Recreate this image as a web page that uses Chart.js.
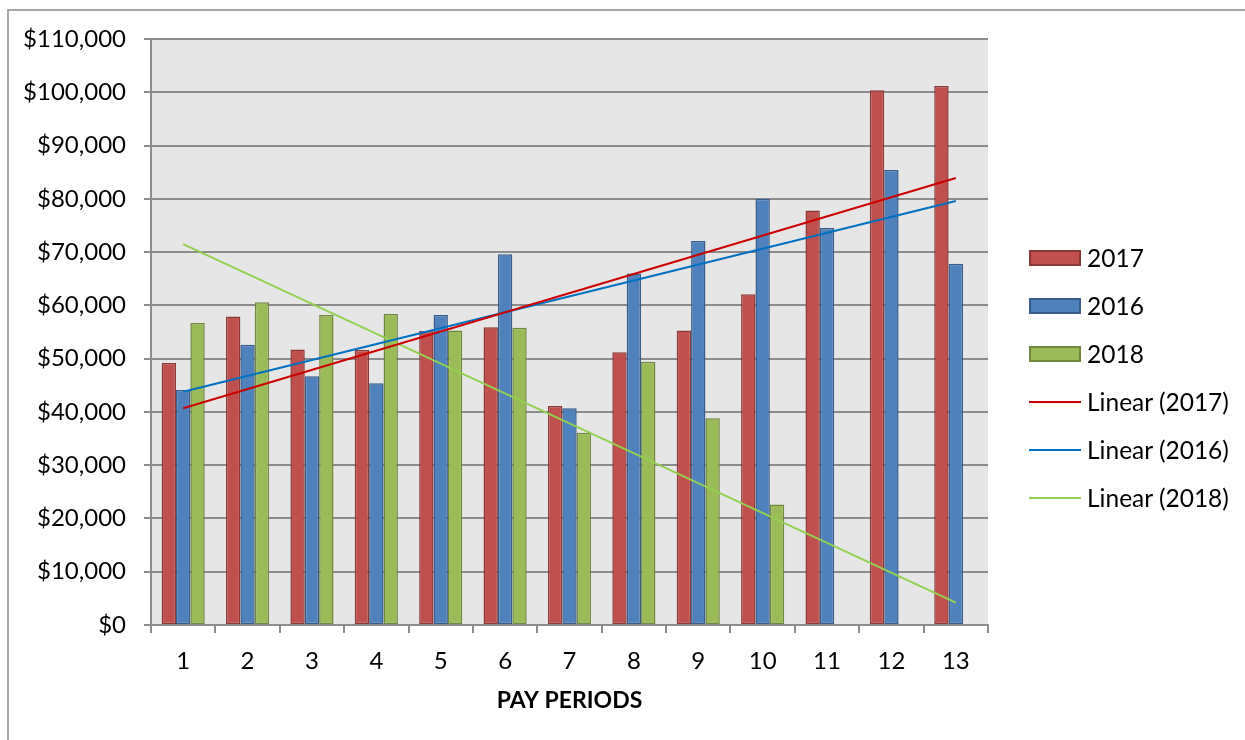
<!DOCTYPE html>
<html>
<head>
<meta charset="utf-8">
<script src="https://cdn.jsdelivr.net/npm/chart.js@4/dist/chart.umd.min.js"></script>
<style>
  html, body { margin: 0; padding: 0; background: #ffffff; }
  body { width: 1245px; height: 740px; position: relative; overflow: hidden; font-family: Lato, "Open Sans", sans-serif; }
  #frame { position: absolute; left: 7px; top: 9px; width: 1300px; height: 800px; border: 2px solid #a6a6a6; box-sizing: border-box; }
  #wrap { position: absolute; left: 0; top: 0; width: 1245px; height: 740px; }
  #legend { position: absolute; left: 1029px; top: 0; }
  .item { position: absolute; left: 0; width: 240px; height: 30px; }
  .sw { position: absolute; left: 0; width: 52px; box-sizing: border-box; }
  .lbl { position: absolute; left: 58px; top: 0; line-height: 30px; font-size: 24.5px; color: #000; white-space: nowrap; }
</style>
</head>
<body>
<div id="frame"></div>
<div id="wrap"><canvas id="c" width="1245" height="740"></canvas></div>
<div id="legend"></div>
<script>
// ---- data ----
const periods = ['1','2','3','4','5','6','7','8','9','10','11','12','13'];
const values2017 = [49200, 57900, 51700, 51600, 55200, 55900, 41100, 51200, 55300, 62100, 77800, 100400, 101200];
const values2016 = [44100, 52600, 46700, 45400, 58200, 69600, 40700, 66000, 72100, 80000, 74500, 85400, 67800];
const values2018 = [56700, 60600, 58200, 58400, 55300, 55800, 36100, 49400, 38800, 22600, null, null, null];
// trend line end values (period 1 and period 13)
const trend2017 = [40700, 83900];
const trend2016 = [43800, 79600];
const trend2018 = [71500, 4200];
const yTicks = [0, 10000, 20000, 30000, 40000, 50000, 60000, 70000, 80000, 90000, 100000, 110000];
const seriesNames = ['2017', '2016', '2018', 'Linear (2017)', 'Linear (2016)', 'Linear (2018)'];

const barFill = ['#C0504D', '#4F81BD', '#9BBB59'];
const barEdge = ['#8C3836', '#385D8A', '#71893F'];
const trendColor = ['#CC0000', '#0070C0', '#92D050'];
const gridColor = '#8c8c8c';

function trendData(ends) {
  return periods.map((p, i) => i === 0 ? ends[0] : (i === periods.length - 1 ? ends[1] : null));
}

const bars = [values2017, values2016, values2018].map((vals, i) => ({
  type: 'bar',
  label: seriesNames[i],
  data: vals,
  backgroundColor: barFill[i],
  borderColor: barEdge[i],
  borderWidth: 1.5,
  borderSkipped: false,
  categoryPercentage: 0.67,
  barPercentage: 1.0,
  order: 2
}));
const trends = [trend2017, trend2016, trend2018].map((ends, i) => ({
  type: 'line',
  label: seriesNames[i + 3],
  data: trendData(ends),
  borderColor: trendColor[i],
  backgroundColor: trendColor[i],
  borderWidth: 2,
  pointRadius: 0,
  spanGaps: true,
  fill: false,
  order: 1
}));

const plotBg = {
  id: 'plotBg',
  beforeDraw(chart) {
    const {ctx, chartArea: a} = chart;
    ctx.save();
    ctx.fillStyle = '#e6e6e6';
    ctx.fillRect(a.left, a.top, a.right - a.left, a.bottom - a.top);
    ctx.restore();
  }
};

const fontFamily = 'Lato, "Open Sans", sans-serif';

new Chart(document.getElementById('c'), {
  data: { labels: periods, datasets: [...bars, ...trends] },
  options: {
    responsive: false,
    animation: false,
    layout: { padding: { left: 0, right: 257, top: 39, bottom: 0 } },
    plugins: { legend: { display: false }, tooltip: { enabled: false } },
    scales: {
      x: {
        type: 'category',
        offset: true,
        afterFit(s) { s.height = 115; },
        grid: { drawOnChartArea: false, drawTicks: true, tickLength: 8, color: gridColor, lineWidth: 2, offset: true },
        border: { display: true, color: gridColor, width: 2 },
        ticks: { color: '#000', padding: 14, font: { family: fontFamily, size: 24 } },
        title: { display: true, text: 'PAY PERIODS', color: '#000', font: { family: fontFamily, size: 23, weight: 'bold' }, padding: { top: 0, bottom: 26 } }
      },
      y: {
        min: 0, max: 110000,
        afterFit(s) { s.width = 151; },
        afterBuildTicks(s) { s.ticks = yTicks.map(v => ({ value: v })); },
        grid: { color: gridColor, lineWidth: 2, tickLength: 7, drawTicks: true },
        border: { display: true, color: gridColor, width: 2 },
        ticks: {
          color: '#000', padding: 18,
          font: { family: fontFamily, size: 24 },
          callback: v => '$' + Number(v).toLocaleString('en-US')
        }
      }
    }
  },
  plugins: [plotBg]
});

// legend built from the same series
const legendCenters = [258, 306, 354, 402, 450, 498];
const legend = document.getElementById('legend');
seriesNames.forEach((name, i) => {
  const item = document.createElement('div');
  item.className = 'item';
  item.style.top = (legendCenters[i] - 15) + 'px';
  const sw = document.createElement('div');
  sw.className = 'sw';
  if (i < 3) {
    sw.style.top = '7px';
    sw.style.height = '16px';
    sw.style.background = barFill[i];
    sw.style.border = '2px solid ' + barEdge[i];
  } else {
    sw.style.top = '14px';
    sw.style.height = '2px';
    sw.style.background = trendColor[i - 3];
  }
  const lbl = document.createElement('div');
  lbl.className = 'lbl';
  lbl.textContent = name;
  item.appendChild(sw);
  item.appendChild(lbl);
  legend.appendChild(item);
});
</script>
</body>
</html>
